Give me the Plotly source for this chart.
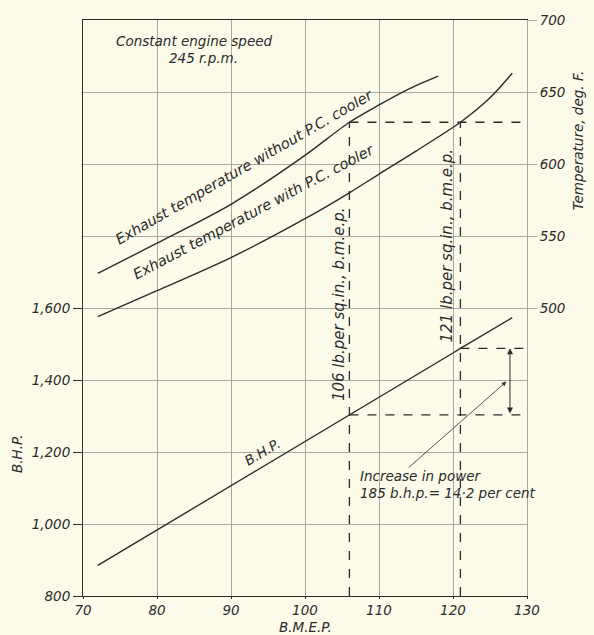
import plotly.graph_objects as go

# Brake mean effective pressure (lb per sq in) along the x axis
bmep_bhp = [72, 80, 90, 100, 106, 110, 120, 121, 128]
bhp = [885, 983, 1106, 1229, 1303, 1352, 1475, 1488, 1573]

# Exhaust temperature, deg F, without and with the P.C. cooler
bmep_nocool = [72, 80, 90, 100, 106, 110, 114, 118]
temp_nocool = [524, 545, 572, 606, 629, 641, 652, 661]

bmep_cool = [72, 80, 90, 100, 106, 110, 115, 121, 125, 128]
temp_cool = [494, 512, 535, 562, 580, 593, 609, 629, 646, 663]

# Operating points compared in the chart
bmep_low, bmep_high = 106, 121
bhp_low = bhp[bmep_bhp.index(bmep_low)]
bhp_high = bhp[bmep_bhp.index(bmep_high)]
temp_equal = temp_cool[bmep_cool.index(bmep_high)]

x_ticks = [70, 80, 90, 100, 110, 120, 130]
bhp_ticks = [800, 1000, 1200, 1400, 1600]
bhp_labels = ["800", "1,000", "1,200", "1,400", "1,600"]
bhp_upper_grid = [1800, 2000, 2200, 2400]
temp_ticks = [500, 550, 600, 650, 700]

INK = "#2b2b2b"
GRID = "#a8a8a0"
BG = "#fcfae8"
FONT = "DejaVu Sans"

fig = go.Figure()
fig.add_trace(go.Scatter(x=bmep_bhp, y=bhp, mode="lines",
                         line=dict(color=INK, width=1.4), yaxis="y"))
fig.add_trace(go.Scatter(x=bmep_nocool, y=temp_nocool, mode="lines",
                         line=dict(color=INK, width=1.4, shape="spline", smoothing=0.8),
                         yaxis="y2"))
fig.add_trace(go.Scatter(x=bmep_cool, y=temp_cool, mode="lines",
                         line=dict(color=INK, width=1.4, shape="spline", smoothing=0.8),
                         yaxis="y2"))

dash = dict(color=INK, width=1.3, dash="dash")
shapes = [
    # verticals at the two b.m.e.p. values, up to the common exhaust temperature
    dict(type="line", xref="x", yref="y2", x0=bmep_low, x1=bmep_low, y0=300, y1=temp_equal, line=dash),
    dict(type="line", xref="x", yref="y2", x0=bmep_high, x1=bmep_high, y0=300, y1=temp_equal, line=dash),
    # common exhaust temperature level
    dict(type="line", xref="x", yref="y2", x0=bmep_low, x1=130, y0=temp_equal, y1=temp_equal, line=dash),
    # power levels at the two b.m.e.p. values
    dict(type="line", xref="x", yref="y", x0=bmep_low, x1=130, y0=bhp_low, y1=bhp_low, line=dash),
    dict(type="line", xref="x", yref="y", x0=bmep_high, x1=130, y0=bhp_high, y1=bhp_high, line=dash),
]

tf = dict(family=FONT, size=13.5, color=INK, style="italic")
af = dict(family=FONT, size=13.5, color=INK, style="italic")
cf = dict(family=FONT, size=14.5, color=INK, style="italic")
vf = dict(family=FONT, size=15, color=INK, style="italic")


def label(text, x, y, xref="x", yref="y", angle=0, font=af, xanchor="center"):
    return dict(text=text, x=x, y=y, xref=xref, yref=yref, textangle=angle, showarrow=False,
                font=font, xanchor=xanchor, yanchor="middle")


def px(x):
    return (x - 83) / 444


def py(y):
    return (596 - y) / 580


annotations = [
    label("Constant engine speed", px(194), py(37), "paper", "paper"),
    label("245 r.p.m.", px(203), py(54), "paper", "paper"),
    label("Exhaust temperature without P.C. cooler", 91.8, 598, yref="y2", angle=-30, font=cf),
    label("Exhaust temperature with P.C. cooler", 93.0, 567, yref="y2", angle=-28, font=cf),
    label("106 lb.per sq.in., b.m.e.p.", 104.6, 1611, angle=-90, font=vf),
    label("121 lb.per sq.in., b.m.e.p.", 119.2, 1774, angle=-90, font=vf),
    label("B.H.P.", 94.2, 1200, angle=-31),
    label("Increase in power", 107.2, 1134, xanchor="left"),
    label("185 b.h.p.= 14·2 per cent", 107.2, 1087, xanchor="left"),
    # pointer to the power increase
    dict(text="", xref="x", yref="y", axref="x", ayref="y",
         x=127.2, y=(bhp_low + bhp_high) / 2, ax=113.8, ay=1153,
         showarrow=True, arrowhead=2, arrowsize=1.1, arrowwidth=0.8, arrowcolor=INK),
    # double arrow spanning the power increase
    dict(text="", xref="x", yref="y", axref="x", ayref="y",
         x=127.7, y=bhp_high, ax=127.7, ay=bhp_low, arrowside="end+start",
         showarrow=True, arrowhead=2, startarrowhead=2, arrowsize=1.2, startarrowsize=1.2,
         arrowwidth=1.0, arrowcolor=INK),
    # axis titles
    label("B.H.P.", px(17), py(453), "paper", "paper", angle=-90),
    label("Temperature, deg. F.", px(578), py(138), "paper", "paper", angle=-90),
    label("B.M.E.P.", px(305), py(627), "paper", "paper"),
]

fig.update_layout(
    width=594, height=635,
    margin=dict(l=83, r=67, t=16, b=39),
    paper_bgcolor=BG, plot_bgcolor=BG,
    showlegend=False,
    shapes=shapes,
    annotations=annotations,
    xaxis=dict(range=[70, 130], tickvals=x_ticks, showgrid=True, gridcolor=GRID, gridwidth=0.8,
               zeroline=False, showline=True, linecolor=INK, linewidth=1, mirror=True,
               ticks="outside", ticklen=2, tickcolor=INK, tickfont=tf),
    yaxis=dict(range=[800, 2400], tickvals=bhp_ticks, ticktext=bhp_labels, showgrid=True,
               gridcolor=GRID, gridwidth=0.8, zeroline=False, showline=True, linecolor=INK,
               linewidth=1, ticks="outside", ticklen=9, tickcolor=INK, tickfont=tf,
               minor=dict(tickvals=bhp_upper_grid, showgrid=True, gridcolor=GRID,
                          gridwidth=0.8, ticks="")),
    yaxis2=dict(range=[300, 700], tickvals=temp_ticks, overlaying="y",
                side="right", showgrid=False, zeroline=False, showline=True, linecolor=GRID,
                linewidth=1, ticks="outside", ticklen=9, tickcolor=GRID, tickfont=tf),
)

fig.write_html("out.html")
